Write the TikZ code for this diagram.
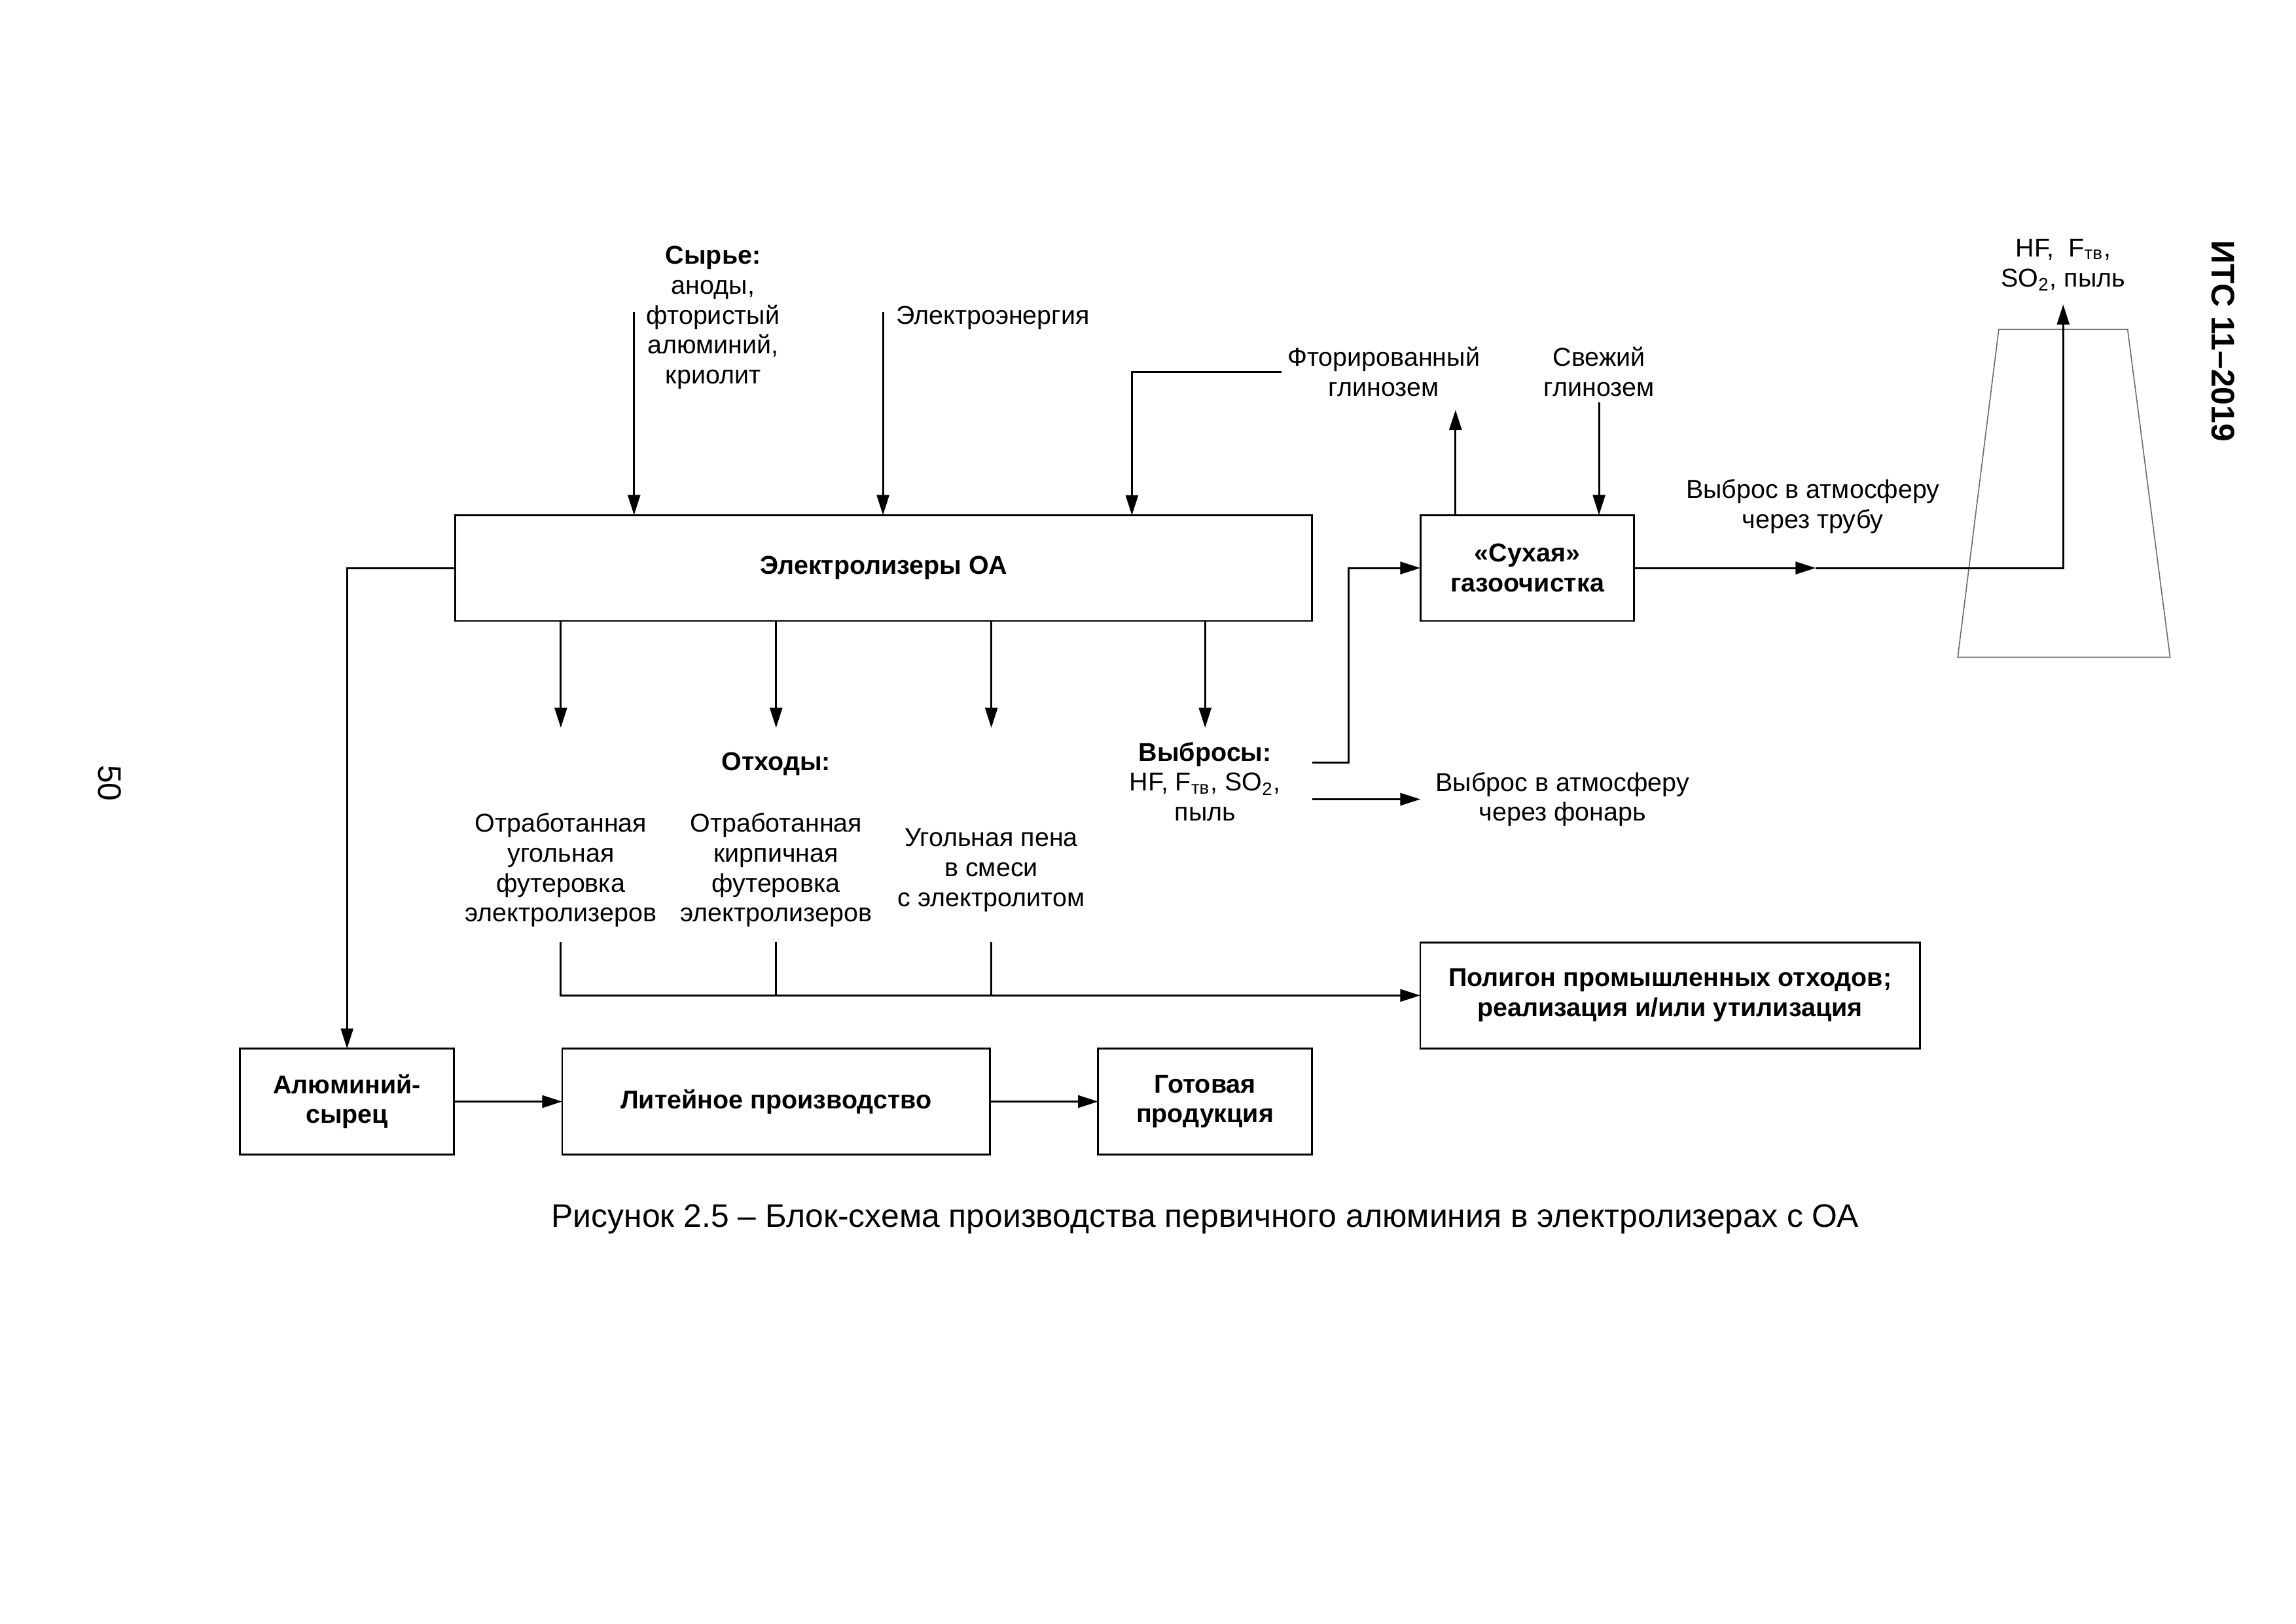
\documentclass[tikz,border=0pt]{standalone}
\usepackage{fontspec}
\setmainfont{Liberation Sans}
\usepackage{tikz}
\usetikzlibrary{positioning,arrows.meta}
\definecolor{alink}{RGB}{0,0,0}
\definecolor{algrey}{RGB}{110,110,110}
\newcommand{\dsize}{\fontsize{9.5}{11}\selectfont}
\newcommand{\psize}{\fontsize{12}{14}\selectfont}
\tikzset{
  blk/.style={draw=alink, line width=0.7pt, align=center, inner sep=0pt,
              outer sep=0pt, minimum height=1.37cm, font=\dsize\bfseries},
  lbl/.style={align=center, inner sep=2pt, font=\dsize},
  flow/.style={-{Triangle[length=2.6mm,width=1.6mm]}, line width=0.7pt, color=alink},
  line/.style={line width=0.7pt, color=alink},
  stack/.style={line width=0.4pt, color=algrey},
}

\begin{document}
\begin{tikzpicture}[x=0.018941cm, y=-0.018941cm, node distance=1.4cm]
\useasboundingbox (0,0) rectangle (1568,1109);
% units
\node[blk, minimum width=11.08cm] (elz) at (603.5,388) {Электролизеры ОА};
\node[blk, minimum width=2.765cm, right=of elz] (dry) {«Сухая»\\газоочистка};
\node[blk, minimum width=6.46cm] (poly) at (1140.5,680) {Полигон промышленных отходов;\\реализация и/или утилизация};
\node[blk, minimum width=2.765cm] (alraw) at (237,752.5) {Алюминий-\\сырец};
\node[blk, minimum width=5.53cm, right=of alraw] (cast) {Литейное производство};
\node[blk, minimum width=2.765cm, right=of cast] (prod) {Готовая\\продукция};
% labels
\node[lbl] (raw) at (487,217) {\textbf{Сырье:}\\аноды,\\фтористый\\алюминий,\\криолит};
\node[lbl, anchor=west] (power) at (608,217) {Электроэнергия};
\node[lbl] (fluor) at (945,254) {Фторированный\\глинозем};
\node[lbl] (fresh) at (1092,254) {Свежий\\глинозем};
\node[lbl] (pipe) at (1238,346) {Выброс в атмосферу\\через трубу};
\node[lbl] (stackgas) at (1409,181) {HF,\ \ F\textsubscript{тв},\\SO\textsubscript{2}, пыль};
\node[lbl, font=\dsize\bfseries] (waste) at (530,522) {Отходы:};
\node[lbl] (w1) at (383,594.5) {Отработанная\\угольная\\футеровка\\электролизеров};
\node[lbl] (w2) at (530,594.5) {Отработанная\\кирпичная\\футеровка\\электролизеров};
\node[lbl] (w3) at (677,594.5) {Угольная пена\\в смеси\\с электролитом};
\node[lbl] (emis) at (823,534) {\textbf{Выбросы:}\\HF, F\textsubscript{тв}, SO\textsubscript{2},\\пыль};
\node[lbl] (lantern) at (1067,546) {Выброс в атмосферу\\через фонарь};
% chimney
\draw[stack] (1365,225) -- (1453,225) -- (1482,449) -- (1337,449) -- cycle;
% page
\node[rotate=-90, font=\psize\bfseries] (std) at (1518,233) {ИТС 11–2019};
\node[rotate=-90, font=\psize] (page) at (75,535) {50};
\node[font=\psize] (cap) at (823,833) {Рисунок 2.5 – Блок-схема производства первичного алюминия в электролизерах с ОА};
% inputs
\coordinate (rawin) at (433,213);
\coordinate (powin) at (603,213);
\coordinate (fluorin) at (773,352);
\coordinate (fluorout) at (994,280);
\draw[flow] (rawin) -- (rawin |- elz.north);
\draw[flow] (powin) -- (powin |- elz.north);
\draw[flow] (fluor.west) -| (fluorin);
\draw[flow] (fluorout |- dry.north) -- (fluorout);
\draw[flow] (fresh.south) -- (fresh.south |- dry.north);
% outputs
\foreach \n in {w1,w2,w3,emis}
  \draw[flow] (elz.south -| \n) -- ++(0,73);
\foreach \n in {w2,w3}
  \draw[line] (\n |- poly.north) -- (\n |- poly.west);
\draw[flow] (w1 |- poly.north) -- (w1 |- poly.west) -- (poly.west);
\coordinate (emisout) at (896,521);
\coordinate (lampout) at (896,546);
\draw[flow] (emisout) -- ++(25,0) |- (dry.west);
\draw[flow] (lampout) -- ++(74,0);
\coordinate (pipemid) at (1240,388);
\coordinate (stackout) at (1409,208);
\draw[flow] (dry.east) -- (pipemid);
\draw[flow] (pipemid) -| (stackout);
% metal
\draw[flow] (elz.west) -| (alraw.north);
\draw[flow] (alraw) -- (cast);
\draw[flow] (cast) -- (prod);
\end{tikzpicture}
\end{document}
